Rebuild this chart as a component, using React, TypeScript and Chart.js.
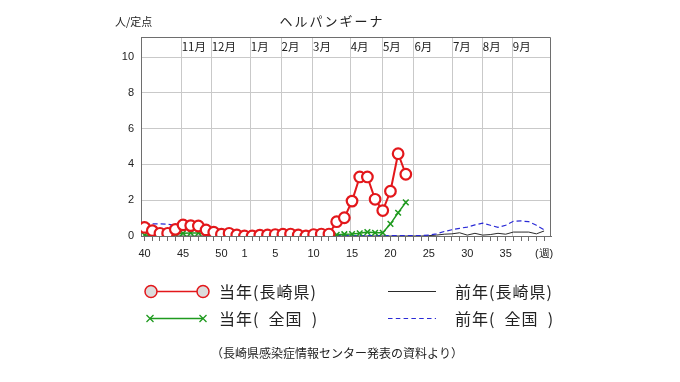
import { useEffect, useRef } from 'react';
import { Chart, registerables } from 'chart.js';

Chart.register(...registerables);

// 53 weekly slots: week 40 .. 52, then 1 .. 40
const weekLabels = [
  '40', '41', '42', '43', '44', '45', '46', '47', '48', '49', '50', '51', '52',
  '1', '2', '3', '4', '5', '6', '7', '8', '9', '10', '11', '12', '13', '14', '15',
  '16', '17', '18', '19', '20', '21', '22', '23', '24', '25', '26', '27', '28', '29',
  '30', '31', '32', '33', '34', '35', '36', '37', '38', '39', '40',
];
const shownWeekTicks = ['40', '45', '50', '1', '5', '10', '15', '20', '25', '30', '35'];
const lastTickLabel = '(週)';

const yTickValues = [0, 2, 4, 6, 8, 10];

// month boundaries expressed in week-slot units
const monthStarts = [4.7, 8.6, 13.7, 17.7, 21.8, 26.7, 30.9, 35.0, 40.0, 43.9, 47.8];
const monthNames = ['11月', '12月', '1月', '2月', '3月', '4月', '5月', '6月', '7月', '8月', '9月'];

// 当年(長崎県)
const currentNagasaki = [
  0.48, 0.3, 0.15, 0.15, 0.37, 0.62, 0.58, 0.56, 0.34, 0.21, 0.1, 0.15, 0.06,
  0.0, 0.0, 0.05, 0.06, 0.08, 0.1, 0.11, 0.06, 0.0, 0.08, 0.11, 0.11,
  0.8, 1.02, 1.95, 3.3, 3.3, 2.05, 1.42, 2.5, 4.6, 3.45,
];
// 当年( 全国 )
const currentNational = [
  0.05, 0.04, 0.04, 0.05, 0.1, 0.15, 0.17, 0.17, 0.12, 0.07, 0.05, 0.04, 0.03,
  0.02, 0.02, 0.02, 0.02, 0.02, 0.02, 0.02, 0.02, 0.02, 0.03, 0.03, 0.04,
  0.07, 0.1, 0.11, 0.15, 0.22, 0.18, 0.18, 0.68, 1.3, 1.88,
];
// 前年(長崎県)
const prevNagasaki = [
  0, 0, 0, 0, 0, 0, 0, 0, 0, 0, 0, 0, 0,
  0, 0, 0, 0, 0, 0, 0, 0, 0, 0, 0, 0, 0, 0, 0,
  0, 0, 0, 0, 0, 0, 0, 0, 0, 0.02, 0.05, 0.1, 0.12, 0.18,
  0.05, 0.15, 0.05, 0.08, 0.15, 0.1, 0.22, 0.22, 0.22, 0.12, 0.28,
];
// 前年( 全国 )
const prevNational = [
  0.68, 0.68, 0.68, 0.66, 0.6, 0.5, 0.42, 0.35, 0.28, 0.22, 0.17, 0.14, 0.1,
  0.07, 0.05, 0.05, 0.04, 0.04, 0.03, 0.03, 0.03, 0.03, 0.02, 0.02, 0.02, 0.02, 0.02, 0.02,
  0.02, 0.02, 0.02, 0.02, 0.02, 0.02, 0.02, 0.02, 0.02, 0.05, 0.12, 0.25, 0.35, 0.43,
  0.5, 0.62, 0.72, 0.6, 0.48, 0.6, 0.82, 0.84, 0.8, 0.6, 0.35,
];

const RED = '#e3171b';
const GREEN = '#1f9a1f';
const BLUE = '#2a2ad6';
const BLACK = '#2a2a2a';
const FRAME = '#6e6e6e';
const GRID = '#c9c9c9';
const JP = '"Noto Sans CJK JP", "Noto Sans", sans-serif';
const NUM = '"Liberation Sans Narrow", "Liberation Sans", Arial, sans-serif';

const toXY = (arr: number[]) => arr.map((v, i) => ({ x: i, y: v }));

const decorPlugin = {
  id: 'decor',
  beforeDatasetsDraw(chart: any) {
    const { ctx, chartArea, scales } = chart;
    const xs = scales.x;
    const ys = scales.y;
    ctx.save();
    ctx.strokeStyle = GRID;
    ctx.lineWidth = 1;
    monthStarts.forEach((m) => {
      const px = Math.round(xs.getPixelForValue(m)) + 0.5;
      ctx.beginPath();
      ctx.moveTo(px, chartArea.top);
      ctx.lineTo(px, chartArea.bottom);
      ctx.stroke();
    });
    ctx.fillStyle = '#222';
    ctx.font = `11.5px ${JP}`;
    ctx.textBaseline = 'middle';
    ctx.textAlign = 'left';
    const midY = (chartArea.top + ys.getPixelForValue(10)) / 2;
    monthStarts.forEach((m, i) => {
      const px = xs.getPixelForValue(m);
      ctx.fillText(monthNames[i], px + 1, midY);
    });
    ctx.restore();
  },
  afterDraw(chart: any) {
    const { ctx, chartArea } = chart;
    ctx.save();
    // frame top & right
    ctx.strokeStyle = FRAME;
    ctx.lineWidth = 1;
    ctx.beginPath();
    const t = Math.round(chartArea.top) + 0.5;
    const r = Math.round(chartArea.right) - 0.5;
    ctx.moveTo(chartArea.left, t);
    ctx.lineTo(r, t);
    ctx.lineTo(r, chartArea.bottom);
    ctx.stroke();

    // title & unit
    ctx.fillStyle = '#222';
    ctx.textBaseline = 'middle';
    ctx.font = `11px ${JP}`;
    ctx.textAlign = 'left';
    ctx.fillText('人/定点', 115, 22);
    ctx.font = `13px ${JP}`;
    (ctx as any).letterSpacing = '2px';
    ctx.textAlign = 'center';
    ctx.fillText('ヘルパンギーナ', 332, 21);
    (ctx as any).letterSpacing = '0px';

    // legend
    const row1 = 291.5;
    const row2 = 318.5;
    // red
    ctx.strokeStyle = RED;
    ctx.lineWidth = 1.5;
    ctx.beginPath();
    ctx.moveTo(151, row1);
    ctx.lineTo(203, row1);
    ctx.stroke();
    [151, 203].forEach((cx) => {
      ctx.beginPath();
      ctx.arc(cx, row1, 6, 0, Math.PI * 2);
      ctx.fillStyle = '#dcdcdc';
      ctx.fill();
      ctx.stroke();
    });
    // green
    ctx.strokeStyle = GREEN;
    ctx.lineWidth = 1.3;
    ctx.beginPath();
    ctx.moveTo(150, row2);
    ctx.lineTo(203, row2);
    ctx.stroke();
    [150, 203].forEach((cx) => {
      ctx.beginPath();
      ctx.moveTo(cx - 3.5, row2 - 3.5);
      ctx.lineTo(cx + 3.5, row2 + 3.5);
      ctx.moveTo(cx - 3.5, row2 + 3.5);
      ctx.lineTo(cx + 3.5, row2 - 3.5);
      ctx.stroke();
    });
    // black
    ctx.strokeStyle = BLACK;
    ctx.lineWidth = 1.2;
    ctx.beginPath();
    ctx.moveTo(388, row1);
    ctx.lineTo(436, row1);
    ctx.stroke();
    // blue dashed
    ctx.strokeStyle = BLUE;
    ctx.lineWidth = 1.2;
    ctx.setLineDash([4.5, 3.3]);
    ctx.beginPath();
    ctx.moveTo(388, row2);
    ctx.lineTo(436, row2);
    ctx.stroke();
    ctx.setLineDash([]);

    ctx.fillStyle = '#222';
    ctx.font = `16px ${JP}`;
    (ctx as any).letterSpacing = '1px';
    ctx.textAlign = 'left';
    ctx.fillText('当年(長崎県)', 219, row1);
    ctx.fillText('当年(  全国  )', 219, row2);
    ctx.fillText('前年(長崎県)', 455, row1);
    ctx.fillText('前年(  全国  )', 455, row2);
    (ctx as any).letterSpacing = '0px';

    ctx.font = `12px ${JP}`;
    ctx.textAlign = 'center';
    ctx.fillText('（長崎県感染症情報センター発表の資料より）', 337, 353);
    ctx.restore();
  },
};

export default function App() {
  const ref = useRef<HTMLCanvasElement | null>(null);
  useEffect(() => {
    if (!ref.current) return;
    const chart = new Chart(ref.current, {
      type: 'line',
      data: {
        datasets: [
          {
            label: '当年(長崎県)',
            data: toXY(currentNagasaki),
            borderColor: RED,
            borderWidth: 2,
            pointStyle: 'circle',
            pointRadius: 5.3,
            pointBorderWidth: 2.2,
            pointBackgroundColor: '#ffffff',
            pointBorderColor: RED,
            tension: 0,
            order: 0,
          },
          {
            label: '当年( 全国 )',
            data: toXY(currentNational),
            borderColor: GREEN,
            borderWidth: 1.5,
            pointStyle: 'crossRot',
            pointRadius: 4,
            pointBorderWidth: 1.5,
            pointBorderColor: GREEN,
            tension: 0,
            order: 1,
          },
          {
            label: '前年( 全国 )',
            data: toXY(prevNational),
            borderColor: BLUE,
            borderWidth: 1.2,
            borderDash: [5, 3],
            pointRadius: 0,
            tension: 0,
            order: 2,
          },
          {
            label: '前年(長崎県)',
            data: toXY(prevNagasaki),
            borderColor: BLACK,
            borderWidth: 1,
            pointRadius: 0,
            tension: 0,
            order: 3,
          },
        ],
      },
      options: {
        animation: false,
        responsive: false,
        devicePixelRatio: 1,
        layout: { padding: { left: 0, top: 37, right: 129, bottom: 116 } },
        plugins: { legend: { display: false }, tooltip: { enabled: false }, title: { display: false } },
        scales: {
          x: {
            type: 'linear',
            min: -0.47,
            max: 52.9,
            afterBuildTicks: (s: any) => {
              s.ticks = weekLabels.map((_, i) => ({ value: i }));
            },
            afterFit: (s: any) => {
              s.height = 30;
            },
            grid: {
              drawOnChartArea: false,
              drawTicks: true,
              tickLength: 5,
              color: FRAME,
            },
            border: { display: true, color: FRAME, width: 1 },
            ticks: {
              autoSkip: false,
              maxRotation: 0,
              padding: 6,
              color: '#222',
              font: { family: NUM, size: 11 },
              callback: (value: any) => {
                const i = Number(value);
                if (i === weekLabels.length - 1) return lastTickLabel;
                const lab = weekLabels[i];
                const first = weekLabels.indexOf(lab) === i;
                return first && shownWeekTicks.includes(lab) ? lab : '';
              },
            },
          },
          y: {
            type: 'linear',
            min: 0,
            max: 11.12,
            afterBuildTicks: (s: any) => {
              s.ticks = yTickValues.map((v) => ({ value: v }));
            },
            afterFit: (s: any) => {
              s.width = 141;
            },
            grid: {
              drawTicks: false,
              color: (c: any) => (c.tick && c.tick.value === 0 ? 'rgba(0,0,0,0)' : GRID),
            },
            border: { display: true, color: FRAME, width: 1 },
            ticks: {
              padding: 7,
              color: '#222',
              font: { family: NUM, size: 11 },
            },
          },
        },
      },
      plugins: [decorPlugin],
    });
    return () => chart.destroy();
  }, []);
  return (
    <div style={{ position: 'fixed', left: 0, top: 0, width: 680, height: 382, background: '#fff' }}>
      <canvas ref={ref} width={680} height={382} />
    </div>
  );
}
